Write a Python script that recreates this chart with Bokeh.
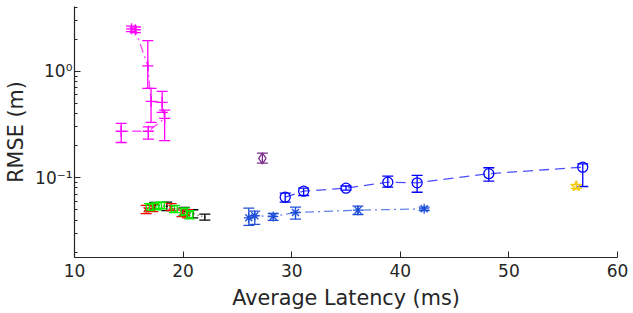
from bokeh.plotting import figure
from bokeh.models import ColumnDataSource, Whisker, TeeHead, FixedTicker, CustomJSTickFormatter, Range1d
from bokeh.embed import file_html
from bokeh.resources import INLINE

# ---- data ----
mag_x = [15.25, 15.6, 16.75, 17.05, 18.07, 18.3, 16.8, 14.3]
mag_y = [2.5, 2.45, 1.12, 0.52, 0.51, 0.36, 0.273, 0.273]
mag_lo = [2.35, 2.3, 0.69, 0.33, 0.41, 0.223, 0.23, 0.214]
mag_hi = [2.65, 2.6, 1.94, 0.69, 0.645, 0.43, 0.30, 0.323]

circ_x = [29.4, 31.1, 35.0, 38.85, 41.55, 48.15, 56.8]
circ_y = [0.0656, 0.0747, 0.0797, 0.0908, 0.0895, 0.109, 0.1256]
circ_lo = [0.0589, 0.068, 0.0765, 0.0815, 0.073, 0.0927, 0.0826]
circ_hi = [0.0715, 0.0797, 0.0835, 0.1033, 0.105, 0.124, 0.135]

star_x = [26.05, 26.6, 28.3, 30.35, 36.1, 42.2]
star_y = [0.042, 0.0439, 0.0432, 0.0471, 0.0495, 0.051]
star_lo = [0.0356, 0.0364, 0.0397, 0.0408, 0.0451, 0.049]
star_hi = [0.0517, 0.0485, 0.0461, 0.0528, 0.0541, 0.053]

red_x = [16.6, 17.2, 18.9, 19.9, 20.4]
red_y = [0.050, 0.052, 0.0525, 0.047, 0.046]
red_lo = [0.046, 0.048, 0.049, 0.043, 0.042]
red_hi = [0.055, 0.056, 0.057, 0.051, 0.050]

grn_x = [16.9, 17.5, 18.0, 19.2, 20.1, 20.6]
grn_y = [0.053, 0.054, 0.055, 0.051, 0.048, 0.045]
grn_lo = [0.049, 0.050, 0.051, 0.047, 0.044, 0.041]
grn_hi = [0.057, 0.058, 0.059, 0.055, 0.052, 0.049]

blk_x = [17.4, 18.5, 20.1, 20.9, 22.0]
blk_y = [0.055, 0.054, 0.048, 0.046, 0.0425]
blk_lo = [0.051, 0.049, 0.044, 0.042, 0.0400]
blk_hi = [0.0585, 0.059, 0.0525, 0.050, 0.0455]

pur_x = [27.3]
pur_y = [0.152]
pur_lo = [0.137]
pur_hi = [0.170]

yel_x = [56.2]
yel_y = [0.083]
yel_lo = [0.0795]
yel_hi = [0.0865]

x_ticks = [10, 20, 30, 40, 50, 60]
y_ticks = [0.1, 1.0]
y_minor = [0.02, 0.03, 0.04, 0.05, 0.06, 0.07, 0.08, 0.09,
           0.2, 0.3, 0.4, 0.5, 0.6, 0.7, 0.8, 0.9, 2.0, 3.0, 4.0]

TXT = "#262626"
FONT = "DejaVu Sans"

p = figure(width=630, height=313, x_range=Range1d(10, 60), y_range=Range1d(0.0178, 4.05),
           y_axis_type="log", output_backend="svg", toolbar_location=None,
           min_border_left=74, min_border_right=13, min_border_top=6, min_border_bottom=56)
p.outline_line_color = None
p.xgrid.visible = False
p.ygrid.visible = False
p.background_fill_color = "white"
p.border_fill_color = "white"


def series(xs, ys, lo, hi, color, marker, msize, dash, line_alpha=0.7, fill=None):
    src = ColumnDataSource(dict(x=xs, y=ys, lo=lo, hi=hi))
    if dash is not None:
        p.line("x", "y", source=src, line_color=color, line_dash=dash, line_width=1.3,
               line_alpha=line_alpha)
    w = Whisker(source=src, base="x", lower="lo", upper="hi", line_color=color, line_width=1.3,
                upper_head=TeeHead(size=11, line_color=color, line_width=1.3),
                lower_head=TeeHead(size=11, line_color=color, line_width=1.3))
    p.add_layout(w)
    p.scatter("x", "y", source=src, marker=marker, size=msize, line_color=color,
              fill_color=fill, line_width=1.3)


series(mag_x, mag_y, mag_lo, mag_hi, "#FF00FF", "cross", 11, "9 4 2 4")
series(circ_x, circ_y, circ_lo, circ_hi, "#0000FF", "circle", 10, "10 6")
series(star_x, star_y, star_lo, star_hi, "#1F4FD8", "asterisk", 10, "9 4 2 4")
series(blk_x, blk_y, blk_lo, blk_hi, "#000000", "dot", 6, "1 3")
series(red_x, red_y, red_lo, red_hi, "#FF0000", "x", 7, "1 3")
series(grn_x, grn_y, grn_lo, grn_hi, "#00F000", "square", 6, "1 3")
series(pur_x, pur_y, pur_lo, pur_hi, "#7E2F8E", "diamond", 11, None)
series(yel_x, yel_y, yel_lo, yel_hi, "#EFCB00", "star", 11, None)

# axes styling
xa = p.xaxis[0]
ya = p.yaxis[0]
xa.ticker = FixedTicker(ticks=x_ticks)
ya.ticker = FixedTicker(ticks=y_ticks, minor_ticks=y_minor)
ya.formatter = CustomJSTickFormatter(code="""
const e = Math.round(Math.log10(tick));
const sup = {"-": "\u207B", "0": "\u2070", "1": "\u00B9", "2": "\u00B2", "3": "\u00B3"};
return "10" + String(e).split("").map(c => sup[c]).join("");
""")
xa.axis_label = "Average Latency (ms)"
ya.axis_label = "RMSE (m)"
for ax in (xa, ya):
    ax.axis_line_color = TXT
    ax.axis_line_width = 1.2
    ax.major_tick_line_color = TXT
    ax.minor_tick_line_color = TXT
    ax.major_tick_in = 6
    ax.major_tick_out = 0
    ax.minor_tick_in = 3
    ax.minor_tick_out = 0
    ax.major_label_text_font = FONT
    ax.major_label_text_color = TXT
    ax.major_label_text_font_size = "17px"
    ax.axis_label_text_font = FONT
    ax.axis_label_text_color = TXT
    ax.axis_label_text_font_size = "20.75px"
    ax.axis_label_text_font_style = "normal"
xa.minor_tick_line_color = None
xa.major_label_standoff = 6
xa.axis_label_standoff = 6
ya.major_label_standoff = 2
ya.axis_label_standoff = 4

open("out.html", "w").write(file_html(p, INLINE))
